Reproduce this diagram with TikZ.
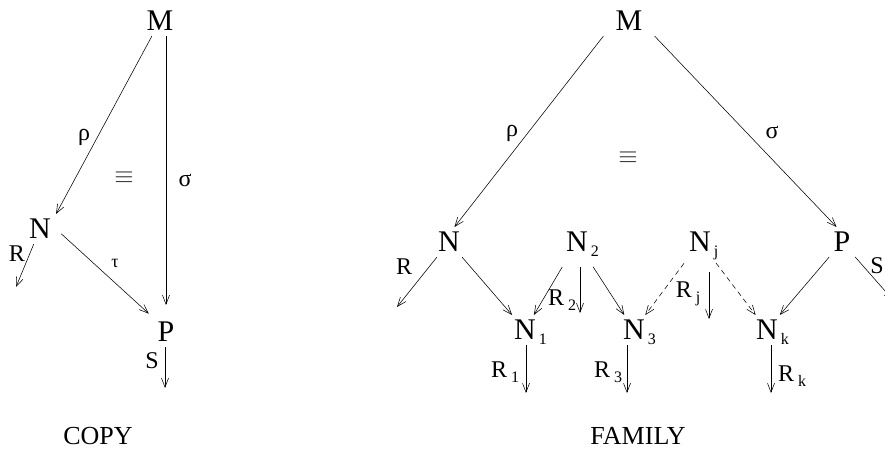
\documentclass[tikz,border=0pt]{standalone}
\usepackage{fontspec}
\setmainfont{Liberation Serif}
\usepackage{tikz}
\usetikzlibrary{arrows.meta, calc}

% subscripts: \nsub keeps the node box as wide as the letter
\newcommand{\nsub}[1]{\rlap{\smash{\raisebox{-5pt}{\kern3pt\fontsize{16}{16}\selectfont #1}}}}
\newcommand{\lsub}[1]{\,\raisebox{-5pt}{\fontsize{16}{16}\selectfont #1}}

\begin{document}
\begin{tikzpicture}[
        x=1pt, y=-1pt,
        obj/.style={inner sep=5pt, font=\fontsize{30}{30}\selectfont},
        tallobj/.style={obj, inner ysep=15pt},
        lbl/.style={inner sep=0pt, font=\fontsize{24}{24}\selectfont},
        smalllbl/.style={inner sep=0pt, font=\fontsize{18}{18}\selectfont},
        equivlbl/.style={inner sep=0pt, text=black!85, font=\fontsize{23}{23}\selectfont},
        title/.style={inner sep=0pt, font=\fontsize{26}{26}\selectfont},
        arr/.style={line width=0.55pt, -{Straight Barb[length=9pt, width=7pt]}},
        dasharr/.style={arr, dash pattern=on 5pt off 4pt}
    ]
    \useasboundingbox (0,0) rectangle (885,452);
    \clip (0,0) rectangle (885,452);

    % Left diagram (copy)
    \node[obj] (M1) at (160,21) {M};
    \node[obj] (N0) at (40,229) {N};
    \node[obj] (P1) at (166,332) {P};
    \coordinate (r0) at (16,287);
    \coordinate (s1) at (165,388);

    \draw[arr] (M1) -- (N0.north east);
    \draw[arr, shorten >=12pt] (M1.south -| P1) -- (P1.north);
    \draw[arr, shorten <=7pt, shorten >=5pt] (N0.east) -- (P1.north west);
    \draw[arr] (N0) -- (r0);
    \draw[arr] (P1.south -| s1) -- (s1);

    \node[lbl] (rho1) at (84,137) {ρ};
    \node[lbl] (sigma1) at (185,180) {σ};
    \node[smalllbl] (tau1) at (115,263) {τ};
    \node[equivlbl] (eq1) at (124,178) {$\equiv$};
    \node[lbl] (R0) at (17,254) {R};
    \node[lbl] (S1) at (152,361) {S};
    \node[title] (copy) at (98,436) {COPY};

    % Right diagram (family)
    \node[obj, inner xsep=12pt] (M2) at (629,21) {M};
    \node[obj] (N) at (449,242) {N};
    \node[tallobj] (N2) at (577,242) {N\nsub{2}};
    \node[tallobj] (Nj) at (700,242) {N\nsub{j}};
    \node[obj] (P2) at (842,242) {P};
    \node[obj] (N1) at (525,330) {N\nsub{1}};
    \node[obj] (N3) at (634,330) {N\nsub{3}};
    \node[obj] (Nk) at (767,330) {N\nsub{k}};
    \coordinate (r) at (397,307);
    \coordinate (r1) at (526,393);
    \coordinate (r2) at (580,313);
    \coordinate (r3) at (627,393);
    \coordinate (rj) at (709,319);
    \coordinate (rk) at (771,393);
    \coordinate (s2) at (893,300);

    \draw[arr] (M2.south west) -- (N.70);
    \draw[arr] (M2.south east) -- (P2.110);
    \draw[arr] (N) -- (r);
    \draw[arr] (N) -- (N1);
    \draw[arr] (N2) -- (N1);
    \draw[arr] (N2.south -| r2) -- (r2);
    \draw[arr] (N2) -- (N3);
    \draw[dasharr] (Nj) -- (N3);
    \draw[arr, shorten <=5pt] (Nj.south -| rj) -- (rj);
    \draw[dasharr] (Nj) -- (Nk);
    \draw[arr] (P2) -- (Nk);
    \draw[arr] (P2) -- (s2);
    \draw[arr] (N1.south -| r1) -- (r1);
    \draw[arr] (N3.south -| r3) -- (r3);
    \draw[arr] (Nk.south -| rk) -- (rk);

    \node[lbl] (rho2) at (512,133) {ρ};
    \node[lbl] (sigma2) at (772,132) {σ};
    \node[equivlbl] (eq2) at (628,158) {$\equiv$};
    \node[lbl] (R) at (404,267) {R};
    \node[lbl] (R1) at (505,372) {R\lsub{1}};
    \node[lbl] (R2) at (562,300) {R\lsub{2}};
    \node[lbl] (R3) at (608,372) {R\lsub{3}};
    \node[lbl] (Rj) at (688,294) {R\lsub{j}};
    \node[lbl] (Rk) at (792,376) {R\lsub{k}};
    \node[lbl] (S2) at (877,266) {S};
    \node[title] (family) at (638,436) {FAMILY};

\end{tikzpicture}
\end{document}
